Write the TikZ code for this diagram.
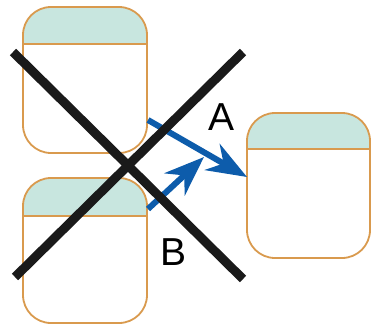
\documentclass[tikz,border=0pt]{standalone}
\usepackage{fontspec}
\setmainfont{Liberation Sans}
\usetikzlibrary{arrows.meta}
\definecolor{boxline}{HTML}{D99A4E}
\definecolor{headfill}{HTML}{C8E6DF}
\definecolor{arrblue}{HTML}{0D5CAB}
\definecolor{crossblack}{HTML}{1A1A1A}
\tikzset{
  card/.style={draw=boxline, line width=1.8pt, rounded corners=28pt, fill=white,
    minimum width=#1, inner sep=0pt},
  head/.style={path picture={
    \fill[headfill, sharp corners] (path picture bounding box.north west) rectangle
      ([yshift=-#1]path picture bounding box.north east);
    \draw[boxline, line width=1.8pt, sharp corners] ([yshift=-#1]path picture bounding box.north west) --
      ([yshift=-#1]path picture bounding box.north east);}},
  bluearrow/.style={draw=arrblue, line width=6pt,
    -{Stealth[length=40pt, width=30pt, inset=13pt]}},
  cross/.style={draw=crossblack, line width=9pt},
  lab/.style={font=\fontsize{39}{39}\selectfont, inner sep=0pt, text=black},
}
\begin{document}
\begin{tikzpicture}[x=1pt, y=-1pt]
\useasboundingbox (0,0) rectangle (372,327);
\node[card=124pt, minimum height=146pt, head=37pt] (b1) at (85,80) {};
\node[card=124pt, minimum height=145pt, head=38pt] (b2) at (85,250.5) {};
\node[card=123pt, minimum height=145pt, head=36pt] (b3) at (308.5,185.5) {};
\coordinate (a1) at (148,120);
\coordinate (a2) at (247,177);
\coordinate (c1) at (148,209);
\coordinate (c2) at (204,157);
\draw[bluearrow] (a1) -- (a2);
\draw[bluearrow] (c1) -- (c2);
\draw[cross] (13,52) -- (243,279);
\draw[cross] (15,277) -- (243,52);
\node[lab] (la) at (222,117.5) {A};
\node[lab] (lb) at (174,252) {B};
\end{tikzpicture}
\end{document}
